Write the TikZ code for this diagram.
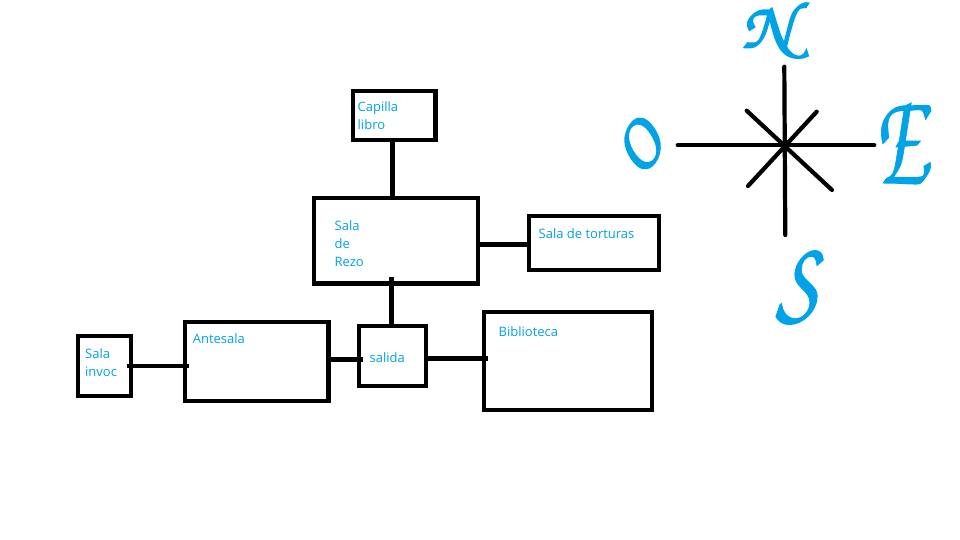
\documentclass[tikz,border=0pt]{standalone}
\usepackage{fontspec}
\setmainfont{Open Sans}
\usepackage{xcolor}
\definecolor{paintblue}{HTML}{00A2E8}
\newcommand{\heavy}[2][1.6]{\special{pdf:code 2 Tr #1 w 0 0.635 0.91 RG}#2\special{pdf:code 0 Tr}}
\tikzset{
  room/.style={draw=black,line width=4.6pt,fill=white,rectangle,inner sep=0pt,outer sep=0pt},
  link/.style={draw=black,line width=4.5pt},
  ray/.style={draw=black,line width=4.2pt,line cap=round},
  lab/.style={text=paintblue,font=\fontsize{13}{18}\selectfont,align=left,anchor=base west,inner sep=0pt},
  cardinal/.style={text=paintblue,inner sep=0pt,font=\fontencoding{T1}\fontfamily{pzc}\fontseries{b}\fontshape{it}\fontsize{70}{70}\selectfont}
}
\begin{document}
\begin{tikzpicture}[x=1pt,y=-1pt]
\useasboundingbox (0,0) rectangle (960,540);
\node[room,minimum width=82.5pt,minimum height=49pt] (capilla) at (394.2,115.5) {};
\node[room,minimum width=164pt,minimum height=85.5pt] (rezo) at (396,240.7) {};
\node[room,minimum width=130pt,minimum height=54pt] (torturas) at (594,243) {};
\node[room,minimum width=168pt,minimum height=98pt] (biblioteca) at (568,361) {};
\node[room,minimum width=67pt,minimum height=60pt] (salida) at (392.5,356) {};
\node[room,minimum width=143.5pt,minimum height=79pt] (antesala) at (256.8,361.5) {};
\node[room,minimum width=53pt,minimum height=60pt] (invoc) at (104.5,366) {};
% connectors
\draw[link] (capilla.south -| 392.5,0) -- (rezo.north -| 392.5,0);
\draw[link,shorten <=-6pt] (rezo.south -| 391.5,0) -- (salida.north -| 391.5,0);
\draw[link] (rezo.east |- 0,244.4) -- (torturas.west |- 0,244.4);
\draw[link,shorten >=-4pt] (salida.east |- 0,358.4) -- (biblioteca.west |- 0,358.4);
\draw[link,line width=4.2pt,shorten >=-4pt] (antesala.east |- 0,359.5) -- (salida.west |- 0,359.5);
\draw[link,line width=4pt,shorten <=-4pt,shorten >=-4pt] (invoc.east |- 0,366.3) -- (antesala.west |- 0,366.3);
% labels
\node[lab] (tcap) at (357.5,130) {Capilla\\libro};
\node[lab] (trez) at (334.5,266) {Sala\\de\\Rezo};
\node[lab] (ttor) at (538.5,238) {Sala de torturas};
\node[lab] (tbib) at (498.5,336) {Biblioteca};
\node[lab] (tsal) at (369.5,362) {salida};
\node[lab] (tant) at (192.7,343) {Antesala};
\node[lab] (tinv) at (85,376) {Sala\\invoc};
% compass
\coordinate (rn) at (784.3,66.7);
\coordinate (rs) at (785.3,235);
\coordinate (rw) at (677.7,145.3);
\coordinate (re) at (874.3,145.3);
\coordinate (rnw) at (746.7,110.7);
\coordinate (rse) at (832,190);
\coordinate (rsw) at (748,186);
\coordinate (rne) at (816.7,111.7);
\draw[ray] (rn) -- (rs);
\draw[ray] (rw) -- (re);
\draw[ray] (rnw) -- (rse);
\draw[ray] (rsw) -- (rne);
\node[cardinal,xscale=1.05,yscale=0.94] (cn) at (767,30) {\heavy{N}};
\node[cardinal,rotate=38,xscale=0.95,yscale=1.1] (co) at (638,146) {\heavy{O}};
\node[cardinal,xscale=1.2,yscale=1.95] (ce) at (901,142) {\heavy[0.5]{E}};
\node[cardinal,xscale=1.3,yscale=1.6] (cs) at (797,286) {\heavy[0.9]{S}};
\end{tikzpicture}
\end{document}
